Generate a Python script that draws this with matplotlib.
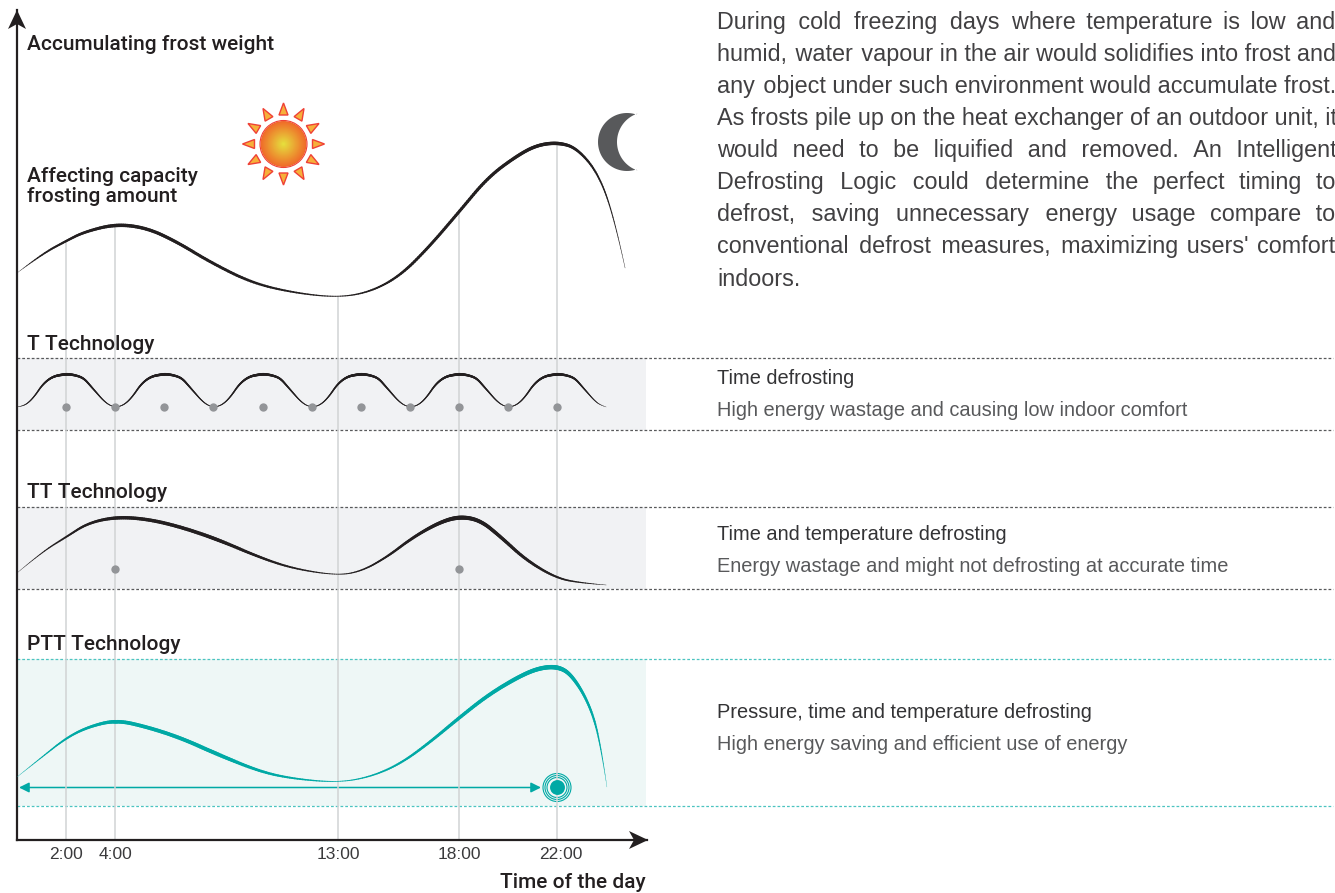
import numpy as np
import matplotlib
matplotlib.use('Agg')
import matplotlib.pyplot as plt
from matplotlib.collections import LineCollection
from matplotlib.patches import Circle, Polygon
from matplotlib.transforms import IdentityTransform, ScaledTranslation

plt.rcParams['font.family'] = ['Liberation Sans', 'DejaVu Sans']

# Valeurs : heures en x, niveau de givre en y
tick_hours = [2, 4, 13.08, 18, 22]
tick_labels = ['2:00', '4:00', '13:00', '18:00', '22:00']
grid_tops = [241, 225, 297, 212, 143.5]

frost_hours = [0, 1.02, 2, 2.73, 4.03, 5.3, 6.52, 7.86, 9.57, 11.32, 13.08, 14.38, 15.6,
               16.78, 18, 19.19, 20.41, 21.2, 22.04, 22.8, 23.67, 24.32, 24.77]
frost_level = [273, 254, 241, 232, 224, 228, 242, 262, 283, 293, 297.5, 292, 276,
               247, 212, 177, 155, 145, 142.5, 148, 173, 217, 268]

hump_hours = [0, 0.25, 0.5, 0.75, 1, 1.25, 1.5, 1.75, 2.1, 2.5, 2.75, 3, 3.25, 3.5, 3.75, 4]
hump_level = [407, 406, 402, 395, 386, 380, 376.5, 375, 374, 376, 379, 386, 393, 400, 405, 407]
hump_starts = [0, 4, 8, 12, 16, 20]
t_dots = [2, 4, 6, 8, 10, 12, 14, 16, 18, 20, 22]

tt_hours = [0, 1.02, 2, 2.89, 4.03, 5.3, 6.68, 8.23, 9.94, 11.32, 13.08, 14.05, 15.07,
            16.09, 17.15, 18, 18.86, 19.71, 20.73, 21.96, 22.97, 24]
tt_level = [573, 552, 537, 523, 517, 519, 527, 540, 558, 569, 575.5, 571, 557,
            538, 523, 516.5, 520, 537, 560, 578, 583, 585]
tt_dots = [4, 18]

ptt_hours = [0, 1.02, 2, 2.89, 4.03, 5.3, 6.68, 8.23, 9.94, 11.32, 13.08, 14.38, 15.6,
             16.78, 18, 19.19, 20.41, 21.26, 22.04, 22.6, 23.3, 23.75, 24.03]
ptt_level = [777, 757, 738, 727, 720, 727, 738, 755, 772, 779, 782.5, 777, 764,
             743, 718, 695, 677, 668, 666.5, 675, 703, 740, 787]

intro_lines = ['During cold freezing days where temperature is low and',
               'humid, water vapour in the air would solidifies into frost and',
               'any object under such environment would accumulate frost.',
               'As frosts pile up on the heat exchanger of an outdoor unit, it',
               'would need to be liquified and removed. An Intelligent',
               'Defrosting Logic could determine the perfect timing to',
               'defrost, saving unnecessary energy usage compare to',
               "conventional defrost measures, maximizing users' comfort",
               'indoors.']

DARK = '#231F20'
TEAL = '#00A9A5'
GREY = '#939598'

fig = plt.figure(figsize=(13.35, 8.93), dpi=100)
renderer = fig.canvas.get_renderer()

# fond en pixels pour le decor et les textes
pg = fig.add_axes([0, 0, 1, 1])
pg.set_xlim(0, 1335)
pg.set_ylim(893, 0)
pg.axis('off')

# vrai repere : heures / niveau
ax = fig.add_axes([17 / 1335, 1 - 840 / 893, 630 / 1335, 830 / 893])
ax.set_xlim(0, 630 / 24.55)
ax.set_ylim(840, 10)
ax.patch.set_visible(False)
ax.spines['top'].set_visible(False)
ax.spines['right'].set_visible(False)
ax.spines['left'].set_linewidth(1.6)
ax.spines['bottom'].set_linewidth(1.6)
ax.spines['left'].set_color(DARK)
ax.spines['bottom'].set_color(DARK)
ax.set_yticks([])
ax.set_xticks(tick_hours, tick_labels)
ax.tick_params(axis='x', length=0, pad=5, labelsize=12.5, labelcolor='#3A3A3C')
lab22 = ax.get_xticklabels()[4]
lab22.set_transform(lab22.get_transform() + ScaledTranslation(0.04, 0, fig.dpi_scale_trans))

# bandes
pg.axhspan(358, 430, xmin=17 / 1335, xmax=646 / 1335, color='#F1F2F4', lw=0)
pg.axhspan(507, 589, xmin=17 / 1335, xmax=646 / 1335, color='#F1F2F4', lw=0)
pg.axhspan(659, 806, xmin=17 / 1335, xmax=646 / 1335, color='#EEF7F6', lw=0)
for yy, col in [(358, '#58595B'), (430, '#58595B'), (507, '#58595B'), (589, '#58595B'), (659, '#4CC4C0'), (806, '#4CC4C0')]:
    pg.plot([17, 1333], [yy, yy], color=col, lw=0.9, ls=(0, (2.2, 1.6)))

ax.vlines(tick_hours, grid_tops, 840, color='#D1D3D4', lw=1.1, zorder=1)


def tapered(hours, level, color, w_h, w_v):
    # lissage : arcs quadratiques entre les milieux, trait d'epaisseur variable
    pts = np.column_stack([hours, level])
    mids = (pts[:-1] + pts[1:]) / 2
    mids[0] = pts[0]
    mids[-1] = pts[-1]
    t = np.linspace(0, 1, 16)[:, None]
    parts = []
    for i in range(len(mids) - 1):
        parts.append((1 - t) ** 2 * mids[i] + 2 * t * (1 - t) * pts[i + 1] + t ** 2 * mids[i + 1])
    data = np.vstack(parts)
    px = ax.transData.transform(data)
    segs = np.stack([px[:-1], px[1:]], axis=1)
    lc = LineCollection(segs, linewidths=np.interp(data[:-1, 0], w_h, w_v), colors=color,
                        transform=IdentityTransform(), capstyle='round', zorder=3)
    ax.add_collection(lc, autolim=False)


tapered(frost_hours, frost_level, DARK, [0, 1, 4, 9, 13, 16, 22, 23.5, 24.8], [0.2, 1.2, 2.5, 2, 0.6, 2, 2.5, 1.4, 0.2])

t_h = np.concatenate([np.array(hump_hours[:-1]) + s for s in hump_starts] + [[24]])
t_l = np.concatenate([hump_level[:-1]] * 6 + [[407]])
tapered(t_h, t_l, DARK, [0, 2, 4, 6, 8, 10, 12, 14, 16, 18, 20, 22, 24],
        [0.3, 2, 0.4, 2, 0.4, 2, 0.4, 2, 0.4, 2, 0.4, 2, 0.2])
ax.scatter(t_dots, [407] * len(t_dots), s=36, color=GREY, lw=0, zorder=4)

tapered(tt_hours, tt_level, DARK, [0, 4, 8, 13, 18, 21, 24], [0.2, 2.4, 2.6, 0.5, 3, 2, 0.2])
ax.scatter(tt_dots, [569, 569], s=36, color=GREY, lw=0, zorder=4)

tapered(ptt_hours, ptt_level, TEAL, [0, 4, 8, 13, 18, 22, 23.5, 24], [0.2, 2.6, 2.8, 0.5, 2.4, 3.2, 1.5, 0.2])

# fleches des axes
pg.add_patch(Polygon([[17, 10], [26, 29], [17, 24], [8, 29]], color=DARK, lw=0))
pg.add_patch(Polygon([[648, 840], [629, 831], [634, 840], [629, 849]], color=DARK, lw=0))

# soleil
sun_x, sun_y = 283.5, 144
for r, s in zip(np.linspace(23, 1, 23), np.linspace(0, 1, 23)):
    c = np.array([0.94, 0.42, 0.16]) * (1 - s) + np.array([0.90, 0.87, 0.24]) * s
    pg.add_patch(Circle((sun_x, sun_y), r, color=c, lw=0))
pg.add_patch(Circle((sun_x, sun_y), 23.5, fill=False, ec='#EF4136', lw=0.8))
for a in np.arange(0, 360, 30):
    th = np.radians(a)
    d = np.array([np.cos(th), np.sin(th)])
    n = np.array([-d[1], d[0]])
    c0 = np.array([sun_x, sun_y])
    pg.add_patch(Polygon([c0 + d * 41, c0 + d * 29 + n * 4.5, c0 + d * 29 - n * 4.5],
                         fc='#F6B03A', ec='#EF4136', lw=1))

# lune
a1 = np.radians(np.linspace(72, 288, 60))
a2 = np.radians(np.linspace(252, 108, 60))
moon = np.vstack([np.column_stack([627 + 29 * np.cos(a1), 142 + 29 * np.sin(a1)]),
                  np.column_stack([647 + 30 * np.cos(a2), 142 + 30 * np.sin(a2)])])
pg.add_patch(Polygon(moon, color='#58595B', lw=0))

# fleche PTT et cible
pg.annotate('', xy=(541, 787.5), xytext=(19, 787.5),
            arrowprops=dict(arrowstyle='<|-|>', color=TEAL, lw=1.1, mutation_scale=15, shrinkA=0, shrinkB=0))
for r in [14, 12, 10]:
    pg.add_patch(Circle((557, 787.5), r, fill=False, ec=TEAL, lw=0.8, zorder=5))
ax.scatter([22], [787.5], s=115, color=TEAL, lw=0, zorder=6)

# textes de gauche, dessines dans ax pour passer au-dessus des verticales
left_labels = [('Accumulating frost weight', 45), ('Affecting capacity', 177), ('frosting amount', 197),
               ('T Technology', 344), ('TT Technology', 493), ('PTT Technology', 644)]
for txt, yy in left_labels:
    ax.text(27, yy, txt, fontsize=15, color=DARK, va='center', ha='left', transform=pg.transData,
            fontweight='medium', family=['Roboto', 'Liberation Sans'], zorder=7)
pg.text(646, 883, 'Time of the day', fontsize=15, color=DARK, va='center', ha='right',
        fontweight='medium', family=['Roboto', 'Liberation Sans'])

# paragraphe justifie : espaces fines ajoutees entre les mots jusqu'a la marge
HAIR = '\u200a'
for i, line in enumerate(intro_lines):
    t = pg.text(717, 23 + 32 * i, line, fontsize=16.8, color='#414042', va='center', ha='left', clip_on=True)
    words = line.split(' ')
    if i == len(intro_lines) - 1:
        continue
    gaps = [' '] * (len(words) - 1)
    k = 0
    while t.get_window_extent(renderer).width < 618 and k < 300:
        gaps[k % len(gaps)] += HAIR
        k += 1
        t.set_text(''.join(w + g for w, g in zip(words, gaps + [''])))

right_text = [('Time defrosting', 378), ('High energy wastage and causing low indoor comfort', 410),
              ('Time and temperature defrosting', 533), ('Energy wastage and might not defrosting at accurate time', 565),
              ('Pressure, time and temperature defrosting', 712), ('High energy saving and efficient use of energy', 744)]
for k, (txt, yy) in enumerate(right_text):
    pg.text(717, yy + 1, txt, fontsize=14.4, color='#333335' if k % 2 == 0 else '#58595B', va='center', ha='left')

fig.savefig('out.png', dpi=100)
